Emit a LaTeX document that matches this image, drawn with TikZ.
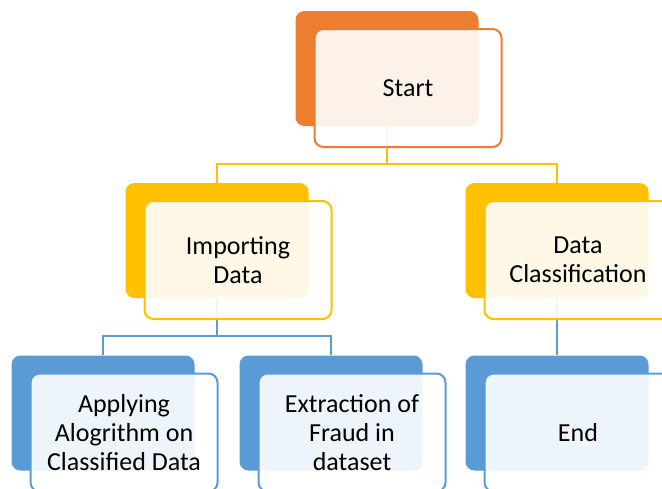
\documentclass[tikz,border=0pt]{standalone}
\usepackage{fontspec}
\setmainfont{Carlito}
\usetikzlibrary{positioning}

\definecolor{startorange}{HTML}{ED7D31}
\definecolor{stepgold}{HTML}{FFC000}
\definecolor{leafblue}{HTML}{5B9BD5}

\tikzset{
  back/.style={rectangle, rounded corners=9pt, fill=#1, minimum width=183pt,
    minimum height=115pt, inner sep=0pt},
  front/.style={rectangle, rounded corners=9pt, draw=#1, line width=2pt,
    fill=white, fill opacity=0.9, text opacity=1, minimum width=187pt,
    minimum height=118pt, inner sep=0pt, align=center,
    font=\fontsize{26}{29}\selectfont},
  link/.style={draw=#1, line width=2pt},
}

\begin{document}
\begin{tikzpicture}[node distance=2cm,on grid]
  \useasboundingbox (0,0) rectangle (662pt,-488pt);
  \clip (0,0) rectangle (662pt,-488pt);

  % back boxes
  \node[back=startorange](startb) at (387pt,-68.5pt) {};
  \node[back=stepgold](importb)[below left=172pt and 170pt of startb] {};
  \node[back=stepgold](classb)[right=340pt of importb] {};
  \node[back=leafblue](applyb)[below left=172.5pt and 114pt of importb] {};
  \node[back=leafblue](extractb)[right=228pt of applyb] {};
  \node[back=leafblue](endb)[right=226pt of extractb] {};

  % connectors run under the front boxes
  \draw[link=stepgold] (startb.south) -- ++(0,-38pt) -| (importb.north);
  \draw[link=stepgold] (startb.south) -- ++(0,-38pt) -| (classb.north);
  \draw[link=leafblue] (importb.south) -- ++(0,-38pt) -| (applyb.north);
  \draw[link=leafblue] (importb.south) -- ++(0,-38pt) -| (extractb.north);
  \draw[link=leafblue] (classb.south) -- (endb.north);

  % front boxes
  \node[front=startorange](startf) at ([shift={(21pt,-19.5pt)}]startb) {Start};
  \node[front=stepgold](importf) at ([shift={(21pt,-19.5pt)}]importb) {Importing\\Data};
  \node[front=stepgold](classf) at ([shift={(21pt,-19.5pt)}]classb) {Data\\Classification};
  \node[front=leafblue](applyf) at ([shift={(21pt,-19.5pt)}]applyb) {Applying\\Alogrithm on\\Classified Data};
  \node[front=leafblue](extractf) at ([shift={(21pt,-19.5pt)}]extractb) {Extraction of\\Fraud in\\dataset};
  \node[front=leafblue](endf) at ([shift={(21pt,-19.5pt)}]endb) {End};
\end{tikzpicture}
\end{document}
